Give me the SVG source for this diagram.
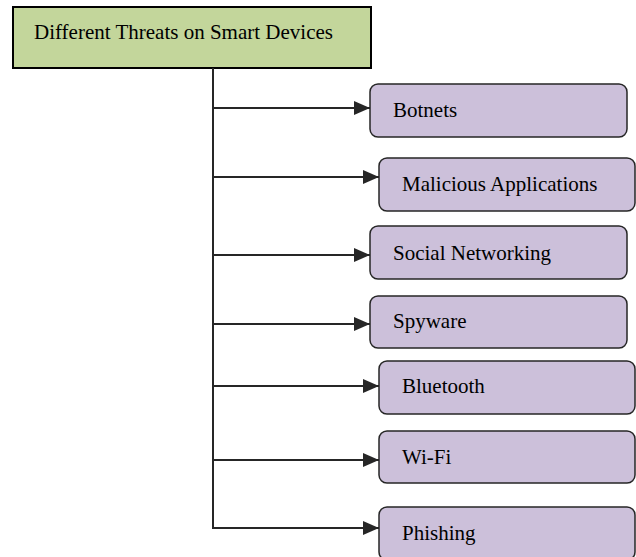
<svg xmlns="http://www.w3.org/2000/svg" width="636" height="557" viewBox="0 0 636 557">
<style>
.box{fill:#CCC0DA;stroke:#262626;stroke-width:1.5}
.hdr{fill:#C3D69B;stroke:#000;stroke-width:2}
text{font-family:"Liberation Serif","Times New Roman",serif;font-size:21px;fill:#000}
.ln{fill:none;stroke:#262626;stroke-width:2}
</style>
<defs>
<marker id="ah" markerWidth="8" markerHeight="7" refX="8" refY="3.5" orient="auto" markerUnits="strokeWidth">
<path d="M0,0 L8,3.5 L0,7 Z" fill="#262626"/>
</marker>
</defs>
<g id="header">
<rect class="hdr" x="13" y="7" width="358" height="61"/>
<text x="34" y="39">Different Threats on Smart Devices</text>
</g>
<g id="connectors">
<path class="ln" d="M213,68 V528"/>
<path class="ln" d="M212,108 H370" marker-end="url(#ah)"/>
<path class="ln" d="M212,177 H379" marker-end="url(#ah)"/>
<path class="ln" d="M212,255 H370" marker-end="url(#ah)"/>
<path class="ln" d="M212,324 H370" marker-end="url(#ah)"/>
<path class="ln" d="M212,386 H379" marker-end="url(#ah)"/>
<path class="ln" d="M212,460 H379" marker-end="url(#ah)"/>
<path class="ln" d="M212,528 H379" marker-end="url(#ah)"/>
</g>
<g id="botnets">
<rect class="box" x="370" y="84" width="257" height="53" rx="8"/>
<text x="393" y="117">Botnets</text>
</g>
<g id="malicious">
<rect class="box" x="379" y="158" width="256" height="53" rx="8"/>
<text x="402" y="191">Malicious Applications</text>
</g>
<g id="social">
<rect class="box" x="370" y="226" width="257" height="53" rx="8"/>
<text x="393" y="260">Social Networking</text>
</g>
<g id="spyware">
<rect class="box" x="370" y="296" width="257" height="52" rx="8"/>
<text x="393" y="328">Spyware</text>
</g>
<g id="bluetooth">
<rect class="box" x="379" y="361" width="256" height="53" rx="8"/>
<text x="402" y="393">Bluetooth</text>
</g>
<g id="wifi">
<rect class="box" x="379" y="431" width="256" height="52" rx="8"/>
<text x="402" y="464">Wi-Fi</text>
</g>
<g id="phishing">
<rect class="box" x="379" y="507" width="256" height="53" rx="8"/>
<text x="402" y="540">Phishing</text>
</g>
</svg>
